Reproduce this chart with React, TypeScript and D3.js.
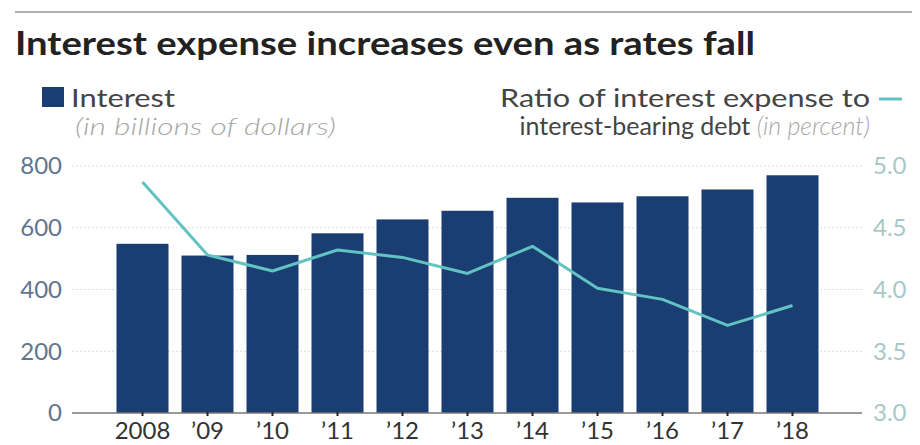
import React from "react";
import * as d3 from "d3";

const years = ["2008", "’09", "’10", "’11", "’12", "’13", "’14", "’15", "’16", "’17", "’18"];
const interest = [548, 510, 512, 582, 627, 655, 697, 682, 702, 724, 770];
const ratio = [4.87, 4.28, 4.15, 4.32, 4.26, 4.13, 4.35, 4.01, 3.92, 3.71, 3.87];
const leftTicks = [0, 200, 400, 600, 800];
const rightTicks = [3.0, 3.5, 4.0, 4.5, 5.0];

const W = 920;
const H = 445;
const FONT = "Lato, 'Open Sans', sans-serif";
const BAR = "#1b3e72";
const LINE = "#62c3c3";

export default function App() {
  const x = d3.scaleBand<string>().domain(years).range([110, 825]).paddingInner(0.2).paddingOuter(0.1);
  const yL = d3.scaleLinear().domain([0, 800]).range([413, 166]);
  const yR = d3.scaleLinear().domain([3, 5]).range([413, 166]);
  const cx = (d: string) => (x(d) as number) + x.bandwidth() / 2;
  const line = d3
    .line<number>()
    .x((_, i) => cx(years[i]))
    .y((v) => yR(v));

  return (
    <svg width={W} height={H} style={{ position: "absolute", left: 0, top: 0, background: "#fff" }} fontFamily={FONT}>
      <rect x={0} y={0} width={W} height={H} fill="#fff" />
      <line x1={15} x2={912} y1={12} y2={12} stroke="#b0b0b0" strokeWidth={2} />
      <text x={15} y={55} fontSize={32} fontWeight={700} fill="#222" textLength={740} lengthAdjust="spacingAndGlyphs">
        Interest expense increases even as rates fall
      </text>

      {/* Left legend */}
      <rect x={42} y={87} width={22} height={20} fill={BAR} />
      <text x={71} y={107} fontSize={25} fill="#444" textLength={104} lengthAdjust="spacingAndGlyphs">
        Interest
      </text>
      <text x={75} y={135} fontSize={24} fill="#a8a8a8" fontStyle="italic" fontWeight={300} textLength={261} lengthAdjust="spacingAndGlyphs">
        (in billions of dollars)
      </text>

      {/* Right legend */}
      <text x={870} y={107} fontSize={25} fill="#444" textAnchor="end" textLength={370} lengthAdjust="spacingAndGlyphs">
        Ratio of interest expense to
      </text>
      <line x1={879} x2={902} y1={99} y2={99} stroke={LINE} strokeWidth={3} />
      <text x={870} y={135} fontSize={25} textAnchor="end">
        <tspan fill="#444">interest-bearing debt </tspan>
        <tspan fill="#a8a8a8" fontStyle="italic" fontWeight={300}>(in percent)</tspan>
      </text>

      {/* Gridlines */}
      {leftTicks.slice(1).map((t) => (
        <line key={t} x1={72} x2={862} y1={yL(t)} y2={yL(t)} stroke="#dcdcdc" strokeWidth={1} strokeDasharray="2 2" />
      ))}

      {/* Bars */}
      {interest.map((v, i) => (
        <rect key={years[i]} x={x(years[i])} y={yL(v)} width={x.bandwidth()} height={yL(0) - yL(v)} fill={BAR} />
      ))}

      {/* Baseline */}
      <line x1={72} x2={862} y1={413} y2={413} stroke="#777" strokeWidth={1.5} />
      {years.map((d) => (
        <line key={d} x1={cx(d)} x2={cx(d)} y1={412} y2={416} stroke="#222" strokeWidth={2} />
      ))}

      {/* Ratio line */}
      <path d={line(ratio) as string} fill="none" stroke={LINE} strokeWidth={3} strokeLinejoin="round" />

      {/* Left axis labels */}
      {leftTicks.map((t) => (
        <text key={t} x={62} y={yL(t)} dy="0.35em" fontSize={24} fill="#5f7590" textAnchor="end">
          {t}
        </text>
      ))}

      {/* Right axis labels */}
      {rightTicks.map((t) => (
        <text key={t} x={873} y={yR(t)} dy="0.35em" fontSize={24} fill="#a6c9c7">
          {t.toFixed(1)}
        </text>
      ))}

      {/* X labels */}
      {years.map((d) => (
        <text key={d} x={cx(d)} y={439} fontSize={24} fill="#333" textAnchor="middle">
          {d}
        </text>
      ))}
    </svg>
  );
}
